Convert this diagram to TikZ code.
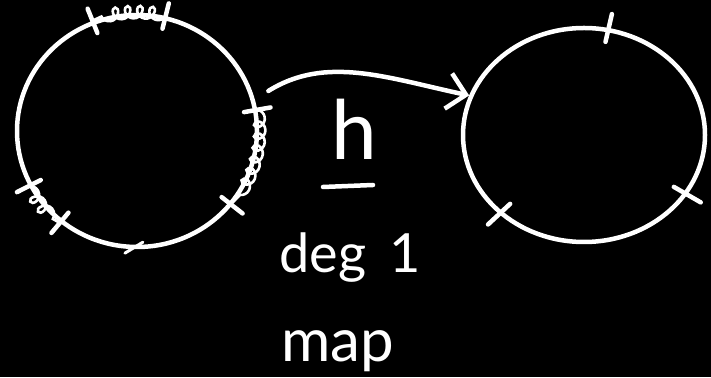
\documentclass[tikz,border=0pt]{standalone}
\usepackage{fontspec}
\setmainfont{Lato}
\usetikzlibrary{arrows.meta,shapes.geometric,decorations.pathmorphing,calc}

\begin{document}
\begin{tikzpicture}[x=1pt,y=1pt,line cap=round,>={Straight Barb[length=18pt,width=36pt]},
  chalk/.style={draw=white,line width=4.5pt},
  coilarc/.style={draw=white,line width=2.6pt,decorate,decoration={coil,amplitude=6pt,segment length=12pt,aspect=0.9}},
  lbl/.style={text=white,inner sep=0pt,anchor=base}]
\fill[black] (0,0) rectangle (711,377);
\node[chalk,ellipse,minimum width=240pt,minimum height=232pt] (src) at (137,246) {};
\node[chalk,ellipse,minimum width=242pt,minimum height=214pt] (tgt) at (584,242) {};
% cut points
\foreach \a in {76,112,10,322,207,230} \draw[chalk] ($(src.center)!0.89!(src.\a)$) -- ($(src.center)!1.11!(src.\a)$);
\foreach \a in {77,223,330} \draw[chalk] ($(tgt.center)!0.87!(tgt.\a)$) -- ($(tgt.center)!1.13!(tgt.\a)$);
\draw[chalk,line width=3pt] ($(src.268)+(-8,-4)$) -- ($(src.268)+(10,7)$);
% collapsed arcs
\draw[coilarc] (src.76) arc[start angle=76,end angle=112,x radius=120,y radius=116];
\draw[coilarc] (src.10) arc[start angle=10,end angle=-38,x radius=120,y radius=116];
\draw[coilarc] (src.207) arc[start angle=207,end angle=230,x radius=120,y radius=116];
\draw[chalk,->,shorten <=16pt] (src.15) to[out=32,in=168] (tgt.161);
\node[lbl,font=\fontsize{82}{82}\selectfont] (h) at (354,217) {h};
\draw[chalk] ($(h.base)+(-31,-27)$) -- ($(h.base)+(19,-25)$);
\node[lbl,font=\fontsize{54}{54}\selectfont] (deg) at (350,104) {deg\, 1};
\node[lbl,font=\fontsize{60}{60}\selectfont] (map) at (338,16) {map};
\end{tikzpicture}
\end{document}
